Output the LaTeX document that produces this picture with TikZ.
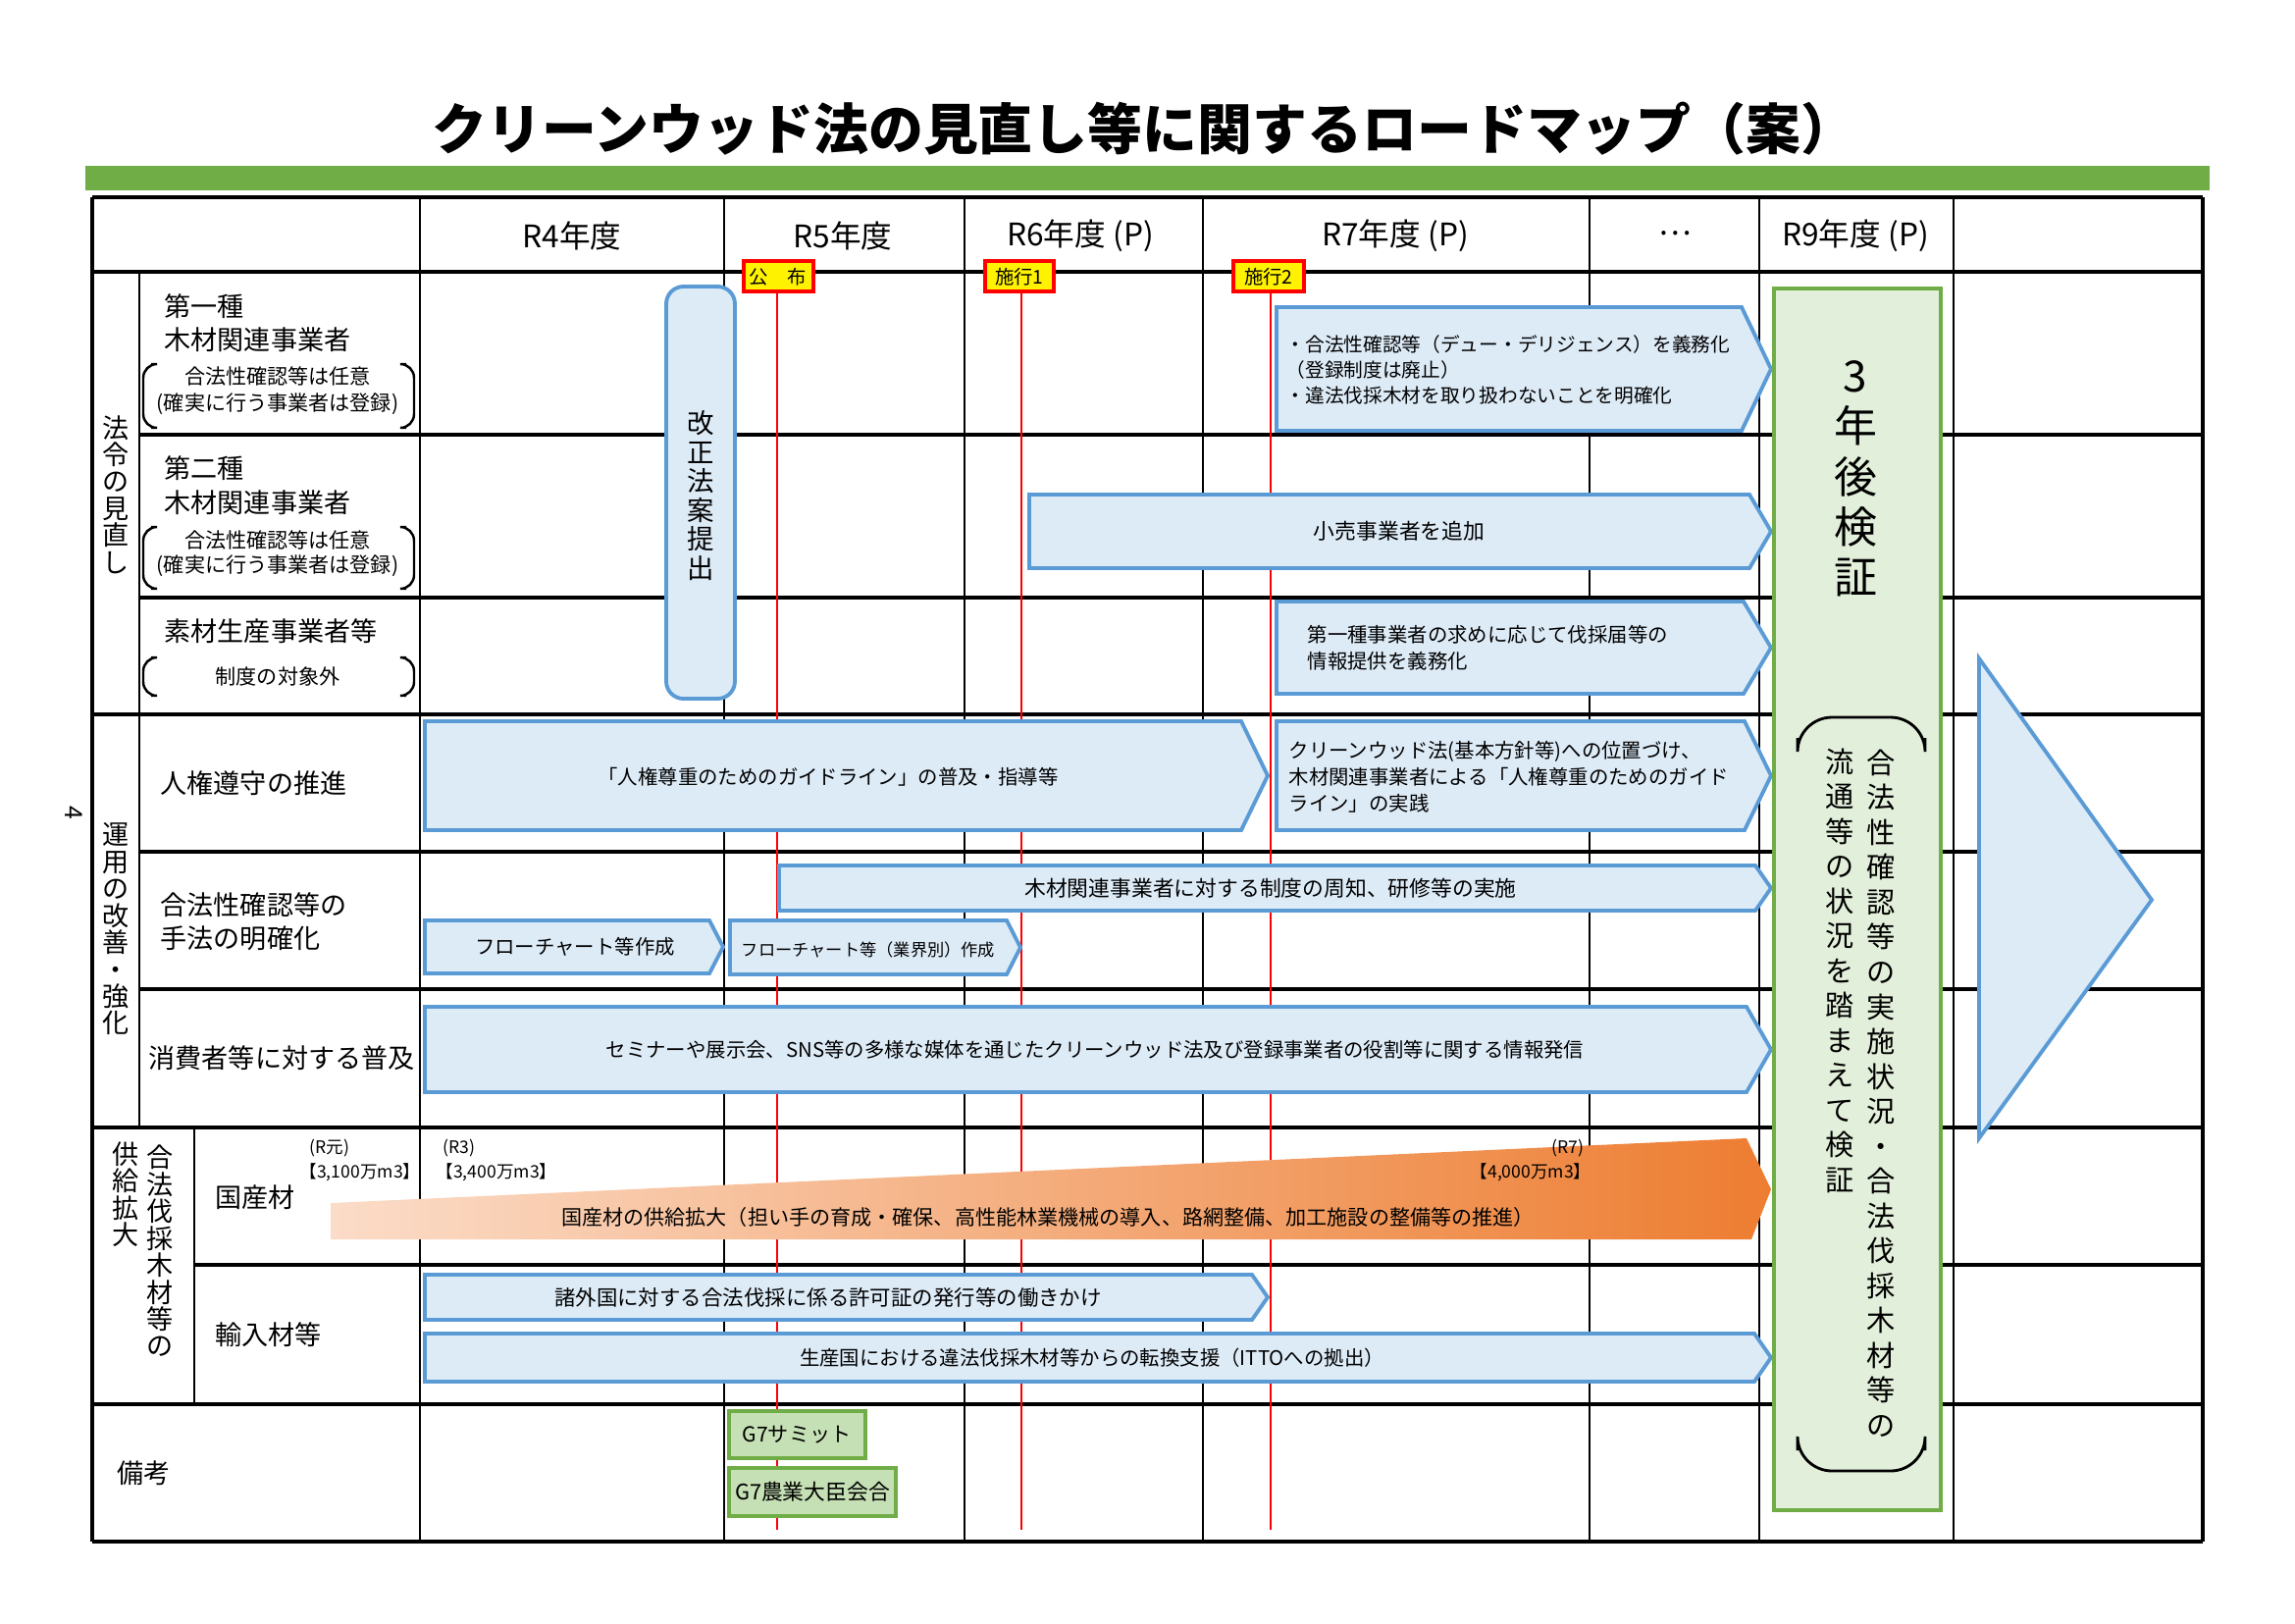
\documentclass[tikz,border=0pt]{standalone}
\usepackage{fontspec}
\setmainfont{Noto Sans CJK JP}
\usetikzlibrary{calc}
\definecolor{barblue}{HTML}{DDEBF7}
\definecolor{barline}{HTML}{5B9BD5}
\definecolor{leafgreen}{HTML}{70AD47}
\definecolor{palegreen}{HTML}{E2EFDA}
\definecolor{gsevgreen}{HTML}{C5E0B4}
\definecolor{orlight}{HTML}{FBDCC8}
\definecolor{ordark}{HTML}{ED7D31}
\def\signbar(#1,#2)(#3,#4)[#5]{\draw[bluebar] (#1,#2) -- ({#3-#5},#2) -- (#3,{(#2+#4)/2}) -- ({#3-#5},#4) -- (#1,#4) -- cycle;}
\def\bracketpair(#1,#2){\draw[bracketline] (154,#1) -- (146,#1) -- (146,#2) -- (154,#2); \draw[bracketline] (414,#1) -- (422,#1) -- (422,#2) -- (414,#2);}
\tikzset{
  gridmajor/.style={line width=1.2pt},
  gridminor/.style={line width=0.8pt},
  bluebar/.style={draw=barline, fill=barblue, line width=1.1pt},
  bartxt/.style={inner sep=0pt, font=\fontsize{5.8}{7.6}\selectfont},
  rowlbl/.style={inner sep=0pt, anchor=west, font=\fontsize{7.7}{9.6}\selectfont},
  smalllbl/.style={inner sep=0pt, font=\fontsize{6}{7.5}\selectfont},
  vlbl/.style={inner sep=0pt, align=center, font=\fontsize{7.7}{7.8}\selectfont},
  hdr/.style={inner sep=0pt, font=\fontsize{9}{10}\selectfont},
  flagbox/.style={draw=red, fill=yellow, line width=1pt},
  milestone/.style={red, line width=0.5pt},
  gsevbox/.style={draw=leafgreen, fill=gsevgreen, line width=1.3pt},
  bracketline/.style={line width=0.7pt, rounded corners=4pt},
  volume/.style={inner sep=0pt, font=\fontsize{5}{6}\selectfont}
}

\begin{document}
\begin{tikzpicture}[x=0.01cm, y=-0.01cm]
			\useasboundingbox (0,0) rectangle (2339,1654);
			%%%%% TITLE %%%%%
			
			\node[font=\fontsize{15.9}{18}\selectfont\bfseries] (title) at (1166,131) {クリーンウッド法の見直し等に関するロードマップ（案）};
			\fill[leafgreen] (87,169) rectangle (2252,194);
			\node[rotate=-90, inner sep=0pt, font=\fontsize{7}{8}\selectfont] (pageno) at (75,828) {4};
			
			%%%%% GRID %%%%%
			
			\foreach \y in {201,277,728,1149,1431,1571} \draw[gridmajor] (94,\y) -- (2245,\y);
			\foreach \y in {443,609,868,1008} \draw[gridmajor] (142,\y) -- (2245,\y);
			\draw[gridmajor] (198,1289) -- (2245,1289);
			\foreach \x in {428,738,983,1226,1620,1793,1991} \draw[gridminor] (\x,201) -- (\x,1571);
			\draw[gridmajor] (94,201) -- (94,1571);
			\draw[gridmajor] (2245,201) -- (2245,1571);
			\draw[gridminor] (142,277) -- (142,1149);
			\draw[gridminor] (198,1149) -- (198,1431);
			
			\node[hdr] (r4) at (583,240) {R4年度};
			\node[hdr] (r5) at (859,240) {R5年度};
			\node[hdr] (r6) at (1101,240) {R6年度 (P)};
			\node[hdr] (r7) at (1422,240) {R7年度 (P)};
			\node[hdr] (dots) at (1707,238) {…};
			\node[hdr] (r9) at (1891,240) {R9年度 (P)};
			
			%%%%% ROW LABELS %%%%%
			
			\node[vlbl] (horei) at (118,504) {法\\令\\の\\見\\直\\し};
			\node[vlbl] (unyo) at (118,947) {運\\用\\の\\改\\善\\・\\強\\化};
			\node[vlbl] (kakudai) at (128,1217) {供\\給\\拡\\大};
			\node[vlbl] (gohozai) at (163,1275) {合\\法\\伐\\採\\木\\材\\等\\の};
			
			\node[rowlbl] (dai1) at (167,312) {第一種};
			\node[rowlbl] (dai1b) at (167,346) {木材関連事業者};
			\bracketpair(371,436)
			\node[smalllbl] (nini1) at (283,383) {合法性確認等は任意};
			\node[smalllbl] (toroku1) at (283,412) {(確実に行う事業者は登録)};
			
			\node[rowlbl] (dai2) at (167,477) {第二種};
			\node[rowlbl] (dai2b) at (167,512) {木材関連事業者};
			\bracketpair(537,600)
			\node[smalllbl] (nini2) at (283,550) {合法性確認等は任意};
			\node[smalllbl] (toroku2) at (283,577) {(確実に行う事業者は登録)};
			
			\node[rowlbl] (sozai) at (167,643) {素材生産事業者等};
			\bracketpair(670,709)
			\node[smalllbl] (taishogai) at (283,689) {制度の対象外};
			
			\node[rowlbl] (jinken) at (163,798) {人権遵守の推進};
			\node[rowlbl, align=left] (shuho) at (163,939) {合法性確認等の\\手法の明確化};
			\node[rowlbl] (fukyu) at (151,1078) {消費者等に対する普及};
			\node[rowlbl] (kokusan) at (219,1220) {国産材};
			\node[rowlbl] (yunyu) at (219,1360) {輸入材等};
			\node[rowlbl] (biko) at (119,1501) {備考};
			
			%%%%% MILESTONES %%%%%
			
			\draw[milestone] (792,297) -- (792,1559);
			\draw[milestone] (1041,297) -- (1041,1559);
			\draw[milestone] (1295,297) -- (1295,1559);
			\draw[flagbox] (758,266) rectangle (829,297);
			\draw[flagbox] (1004,266) rectangle (1074,297);
			\draw[flagbox] (1257,266) rectangle (1329,297);
			\node[inner sep=0pt, font=\fontsize{5.5}{6}\selectfont] (kofu) at (793,282) {公　布};
			\node[inner sep=0pt, font=\fontsize{5.5}{6}\selectfont] (seko1) at (1039,282) {施行1};
			\node[inner sep=0pt, font=\fontsize{5.5}{6}\selectfont] (seko2) at (1293,282) {施行2};
			
			%%%%% BARS %%%%%
			
			\draw[bluebar, rounded corners=5pt] (679,292) rectangle (749,712);
			\node[vlbl, font=\fontsize{7.8}{8.4}\selectfont] (teishutsu) at (714,505) {改\\正\\法\\案\\提\\出};
			
			\signbar(1301,313)(1805,439)[30]
			\node[bartxt, anchor=west, align=left, font=\fontsize{5.6}{7.4}\selectfont] (gimuka) at (1310,377) {・合法性確認等（デュー・デリジェンス）を義務化\\（登録制度は廃止）\\・違法伐採木材を取り扱わないことを明確化};
			
			\signbar(1049,504)(1805,579)[22]
			\node[bartxt, font=\fontsize{6.2}{7.6}\selectfont] (kouri) at (1426,541) {小売事業者を追加};
			
			\signbar(1301,613)(1805,707)[28]
			\node[bartxt, anchor=west, align=left, font=\fontsize{5.8}{7.7}\selectfont] (joho) at (1332,660) {第一種事業者の求めに応じて伐採届等の\\情報提供を義務化};
			
			\signbar(433,735)(1292,846)[27]
			\node[bartxt] (guide) at (844,792) {「人権尊重のためのガイドライン」の普及・指導等};
			
			\signbar(1301,735)(1805,846)[27]
			\node[bartxt, anchor=west, align=left, font=\fontsize{5.8}{7.7}\selectfont] (jissen) at (1313,792) {クリーンウッド法(基本方針等)への位置づけ、\\木材関連事業者による「人権尊重のためのガイド\\ライン」の実践};
			
			\signbar(794,882)(1805,928)[16]
			\node[bartxt, font=\fontsize{6.2}{7.6}\selectfont] (shuchi) at (1295,905) {木材関連事業者に対する制度の周知、研修等の実施};
			
			\signbar(433,938)(737,992)[14]
			\node[bartxt] (flow1) at (586,965) {フローチャート等作成};
			
			\signbar(744,938)(1040,993)[14]
			\node[bartxt, font=\fontsize{4.9}{6}\selectfont] (flow2) at (885,968) {フローチャート等（業界別）作成};
			
			\signbar(433,1026)(1805,1113)[25]
			\node[bartxt] (hasshin) at (1116,1070) {セミナーや展示会、SNS等の多様な媒体を通じたクリーンウッド法及び登録事業者の役割等に関する情報発信};
			
			\shade[left color=orlight, right color=ordark] (337,1226) -- (1780,1160) -- (1805,1212) -- (1785,1263) -- (337,1263) -- cycle;
			\node[bartxt, font=\fontsize{6}{7.5}\selectfont] (kyokyu) at (1068,1240) {国産材の供給拡大（担い手の育成・確保、高性能林業機械の導入、路網整備、加工施設の整備等の推進）};
			\node[volume] (rgan) at (336,1170) {(R元)};
			\node[volume] (v31) at (367,1195) {【3,100万m3】};
			\node[volume] (rthree) at (468,1170) {(R3)};
			\node[volume] (v34) at (506,1195) {【3,400万m3】};
			\node[volume] (rseven) at (1598,1170) {(R7)};
			\node[volume] (v40) at (1560,1195) {【4,000万m3】};
			
			\signbar(433,1299)(1292,1345)[16]
			\node[bartxt, font=\fontsize{6.1}{7.5}\selectfont] (kyokasho) at (844,1322) {諸外国に対する合法伐採に係る許可証の発行等の働きかけ};
			
			\signbar(433,1359)(1805,1408)[17]
			\node[bartxt] (itto) at (1113,1384) {生産国における違法伐採木材等からの転換支援（ITTOへの拠出）};
			
			\draw[gsevbox] (743,1438) rectangle (882,1486);
			\node[bartxt, font=\fontsize{6}{7}\selectfont] (summit) at (812,1462) {G7サミット};
			\draw[gsevbox] (743,1496) rectangle (913,1545);
			\node[bartxt, font=\fontsize{6.2}{7}\selectfont] (nogyo) at (828,1520) {G7農業大臣会合};
			
			%%%%% REVIEW %%%%%
			
			\draw[fill=palegreen, draw=leafgreen, line width=1.4pt] (1808,294) rectangle (1978,1539);
			\node[vlbl, font=\fontsize{12.5}{14.6}\selectfont] (kensho) at (1891,488) {3\\年\\後\\検\\証};
			\draw[line width=0.8pt, rounded corners=10pt] (1832,752) -- (1832,731) -- (1962,731) -- (1962,752);
			\draw[line width=0.8pt, rounded corners=10pt] (1832,1478) -- (1832,1499) -- (1962,1499) -- (1962,1478);
			\node[vlbl, font=\fontsize{8.3}{10.1}\selectfont] (jokyo) at (1917,1114) {合\\法\\性\\確\\認\\等\\の\\実\\施\\状\\況\\・\\合\\法\\伐\\採\\木\\材\\等\\の};
			\node[vlbl, font=\fontsize{8.3}{10.1}\selectfont] (ryutsu) at (1875,989) {流\\通\\等\\の\\状\\況\\を\\踏\\ま\\え\\て\\検\\証};
			
			\draw[bluebar] (2017,671) -- (2193,917) -- (2017,1160) -- cycle;
			
			%%%%% END %%%%%
\end{tikzpicture}
\end{document}
